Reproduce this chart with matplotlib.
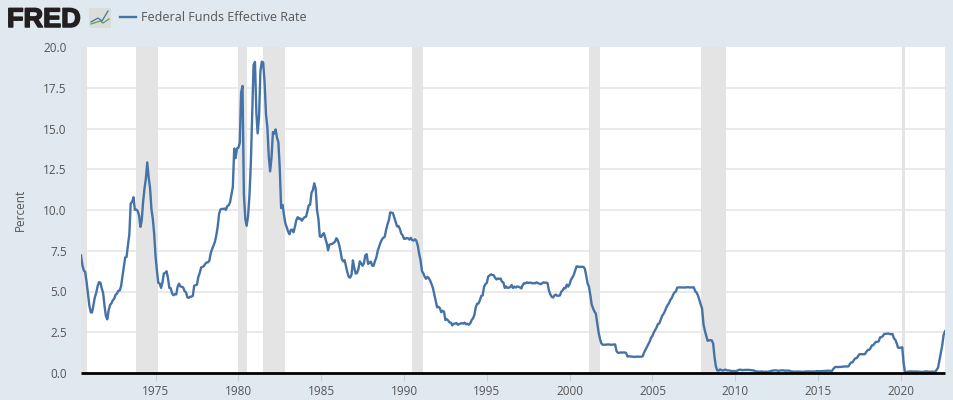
import matplotlib
matplotlib.use("Agg")
import matplotlib.pyplot as plt
import matplotlib.dates as mdates
import matplotlib.patheffects as pe
from matplotlib.lines import Line2D
from matplotlib.patches import Rectangle
import pandas as pd

plt.rcParams['font.family'] = ['Open Sans', 'DejaVu Sans']

# monthly values, first one is July 1970
rate_1970s = [7.21, 6.61, 6.29, 6.20, 5.60, 4.90,
              4.14, 3.72, 3.71, 4.15, 4.63, 4.91, 5.31, 5.57, 5.55, 5.20, 4.91, 4.14,
              3.50, 3.29, 3.83, 4.17, 4.27, 4.46, 4.55, 4.80, 4.87, 5.04, 5.06, 5.33,
              5.94, 6.58, 7.09, 7.12, 7.84, 8.49, 10.40, 10.50, 10.78, 10.01, 10.03, 9.95,
              9.65, 8.97, 9.35, 10.51, 11.31, 11.93, 12.92, 12.01, 11.34, 10.06, 9.45, 8.53,
              7.13, 6.24, 5.54, 5.49, 5.22, 5.55, 6.10, 6.14, 6.24, 5.82, 5.22, 5.20,
              4.87, 4.77, 4.84, 4.82, 5.29, 5.48, 5.31, 5.29, 5.25, 5.02, 4.95, 4.65,
              4.61, 4.68, 4.69, 4.73, 5.35, 5.39, 5.42, 5.90, 6.14, 6.47, 6.51, 6.56,
              6.70, 6.78, 6.79, 6.89, 7.36, 7.60, 7.81, 8.04, 8.45, 8.96, 9.76, 10.03,
              10.07, 10.06, 10.09, 10.01, 10.24, 10.29, 10.47, 10.94, 11.43, 13.77, 13.18, 13.78]
rate_1980s = [13.82, 14.13, 17.19, 17.61, 10.98, 9.47, 9.03, 9.61, 10.87, 12.81, 15.85, 18.90,
              19.08, 15.93, 14.70, 15.72, 18.52, 19.10, 19.04, 17.82, 15.87, 15.08, 13.31, 12.37,
              13.22, 14.78, 14.68, 14.94, 14.45, 14.15, 12.59, 10.12, 10.31, 9.71, 9.20, 8.95,
              8.68, 8.51, 8.77, 8.80, 8.63, 8.98, 9.37, 9.56, 9.45, 9.48, 9.34, 9.47,
              9.56, 9.59, 9.91, 10.29, 10.32, 11.06, 11.23, 11.64, 11.30, 9.99, 9.43, 8.38,
              8.35, 8.50, 8.58, 8.27, 7.97, 7.53, 7.88, 7.90, 7.92, 7.99, 8.05, 8.27,
              8.14, 7.86, 7.48, 6.99, 6.85, 6.92, 6.56, 6.17, 5.89, 5.85, 6.04, 6.91,
              6.43, 6.10, 6.13, 6.37, 6.85, 6.73, 6.58, 6.73, 7.22, 7.29, 6.69, 6.77,
              6.83, 6.58, 6.58, 6.87, 7.09, 7.51, 7.75, 8.01, 8.19, 8.30, 8.35, 8.76,
              9.12, 9.36, 9.85, 9.84, 9.81, 9.53, 9.24, 8.99, 9.02, 8.84, 8.55, 8.45]
rate_1990s = [8.23, 8.24, 8.28, 8.26, 8.18, 8.29, 8.15, 8.13, 8.20, 8.11, 7.81, 7.31,
              6.91, 6.25, 6.12, 5.91, 5.78, 5.90, 5.82, 5.66, 5.45, 5.21, 4.81, 4.43,
              4.03, 4.06, 3.98, 3.73, 3.82, 3.76, 3.25, 3.30, 3.22, 3.10, 3.09, 2.92,
              3.02, 3.03, 3.07, 2.96, 3.00, 3.04, 3.06, 3.03, 3.09, 2.99, 3.02, 2.96,
              3.05, 3.25, 3.34, 3.56, 4.01, 4.25, 4.26, 4.47, 4.73, 4.76, 5.29, 5.45,
              5.53, 5.92, 5.98, 6.05, 6.01, 6.00, 5.85, 5.74, 5.80, 5.76, 5.80, 5.60,
              5.56, 5.22, 5.31, 5.22, 5.24, 5.27, 5.40, 5.22, 5.30, 5.24, 5.31, 5.29,
              5.25, 5.19, 5.39, 5.51, 5.50, 5.56, 5.52, 5.54, 5.54, 5.50, 5.52, 5.50,
              5.56, 5.51, 5.49, 5.45, 5.49, 5.56, 5.54, 5.55, 5.51, 5.07, 4.83, 4.68,
              4.63, 4.76, 4.81, 4.74, 4.74, 4.76, 4.99, 5.07, 5.22, 5.20, 5.42, 5.30]
rate_2000s = [5.45, 5.73, 5.85, 6.02, 6.27, 6.53, 6.54, 6.50, 6.52, 6.51, 6.51, 6.40,
              5.98, 5.49, 5.31, 4.80, 4.21, 3.97, 3.77, 3.65, 3.07, 2.49, 2.09, 1.82,
              1.73, 1.74, 1.73, 1.75, 1.75, 1.75, 1.73, 1.74, 1.75, 1.75, 1.34, 1.24,
              1.24, 1.26, 1.25, 1.26, 1.26, 1.22, 1.01, 1.03, 1.01, 1.01, 1.00, 0.98,
              1.00, 1.01, 1.00, 1.00, 1.00, 1.03, 1.26, 1.43, 1.61, 1.76, 1.93, 2.16,
              2.28, 2.50, 2.63, 2.79, 3.00, 3.04, 3.26, 3.50, 3.62, 3.78, 4.00, 4.16,
              4.29, 4.49, 4.59, 4.79, 4.94, 4.99, 5.24, 5.25, 5.25, 5.25, 5.25, 5.24,
              5.25, 5.26, 5.26, 5.25, 5.25, 5.25, 5.26, 5.02, 4.94, 4.76, 4.49, 4.24,
              3.94, 2.98, 2.61, 2.28, 1.98, 2.00, 2.01, 2.00, 1.81, 0.97, 0.39, 0.16,
              0.15, 0.22, 0.18, 0.15, 0.18, 0.21, 0.16, 0.16, 0.15, 0.12, 0.12, 0.12]
rate_2010s = [0.11, 0.13, 0.16, 0.20, 0.20, 0.18, 0.18, 0.19, 0.19, 0.19, 0.19, 0.18,
              0.17, 0.16, 0.14, 0.10, 0.09, 0.09, 0.07, 0.10, 0.08, 0.07, 0.08, 0.07,
              0.08, 0.10, 0.13, 0.14, 0.16, 0.16, 0.16, 0.13, 0.14, 0.16, 0.16, 0.16,
              0.14, 0.15, 0.14, 0.15, 0.11, 0.09, 0.09, 0.08, 0.08, 0.09, 0.08, 0.09,
              0.07, 0.07, 0.08, 0.09, 0.09, 0.10, 0.09, 0.09, 0.09, 0.09, 0.09, 0.12,
              0.11, 0.11, 0.11, 0.12, 0.12, 0.13, 0.13, 0.14, 0.14, 0.12, 0.12, 0.24,
              0.34, 0.38, 0.36, 0.37, 0.37, 0.38, 0.39, 0.40, 0.40, 0.40, 0.41, 0.54,
              0.65, 0.66, 0.79, 0.90, 0.91, 1.04, 1.15, 1.16, 1.15, 1.15, 1.16, 1.30,
              1.41, 1.42, 1.51, 1.69, 1.70, 1.82, 1.91, 1.91, 1.95, 2.19, 2.20, 2.27,
              2.40, 2.40, 2.41, 2.42, 2.39, 2.38, 2.40, 2.13, 2.04, 1.83, 1.55, 1.55]
rate_2020s = [1.55, 1.58, 0.65, 0.05, 0.05, 0.08, 0.09, 0.10, 0.09, 0.09, 0.09, 0.09,
              0.09, 0.08, 0.07, 0.07, 0.06, 0.08, 0.10, 0.09, 0.08, 0.08, 0.08, 0.08,
              0.08, 0.08, 0.20, 0.33, 0.77, 1.21, 1.68, 2.33, 2.56]

rec_start = ['1969-12-01', '1973-11-01', '1980-01-01', '1981-07-01', '1990-07-01', '2001-03-01', '2007-12-01', '2020-02-01']
rec_end = ['1970-11-01', '1975-03-01', '1980-07-01', '1982-11-01', '1991-03-01', '2001-11-01', '2009-06-01', '2020-04-01']
y_ticks = [0.0, 2.5, 5.0, 7.5, 10.0, 12.5, 15.0, 17.5, 20.0]
x_years = [1975, 1980, 1985, 1990, 1995, 2000, 2005, 2010, 2015, 2020]

rate = rate_1970s + rate_1980s + rate_1990s + rate_2000s + rate_2010s + rate_2020s
dates = pd.date_range('1970-07-01', periods=len(rate), freq='MS')

BG = '#e1e9f0'
TXT = '#555555'
W, H = 954, 400

fig = plt.figure(figsize=(W / 100, H / 100), dpi=100, facecolor=BG)
ax = fig.add_axes([81 / W, 1 - 373 / H, 864 / W, 326 / H], facecolor='white')

for s, e in zip(rec_start, rec_end):
    ax.axvspan(pd.Timestamp(s), pd.Timestamp(e), color='#e4e4e4', lw=0, zorder=1)
for v in y_ticks[1:-1]:
    ax.axhline(v, color='#e6e6e6', lw=1.2, zorder=0.5)
ax.plot(dates, rate, color='#4572a7', lw=1.7, solid_joinstyle='round', zorder=3)

ax.set_xlim(pd.Timestamp('1970-07-01'), pd.Timestamp('2022-09-01'))
ax.set_ylim(0, 20)
ax.set_yticks(y_ticks)
ax.set_yticklabels(['%.1f' % v for v in y_ticks])
ax.set_xticks([pd.Timestamp(str(y) + '-01-01') for y in x_years])
ax.xaxis.set_major_formatter(mdates.DateFormatter('%Y'))
ax.tick_params(axis='y', length=0, pad=10.2, labelsize=8.5, labelcolor=TXT)
ax.tick_params(axis='x', length=6, width=0.8, color='#c0d0e0', pad=2.5, labelsize=8.5, labelcolor=TXT)
for side in ['top', 'left', 'right']:
    ax.spines[side].set_visible(False)
ax.spines['bottom'].set_color('black')
ax.spines['bottom'].set_linewidth(2)
ax.spines['bottom'].set_capstyle('butt')
ax.spines['bottom'].set_zorder(5)

fig.text(20 / W, 1 - 210 / H, 'Percent', rotation=90, ha='center', va='center', fontsize=8.5, color=TXT)

# header: logo and legend
fig.text(7 / W, 1 - 27 / H, 'FRED', ha='left', va='baseline', fontsize=19.5, color='#231f20',
         fontweight='bold', family='Liberation Sans',
         path_effects=[pe.withStroke(linewidth=1.1, foreground='#231f20')])
fig.add_artist(Rectangle((89 / W, 1 - 28 / H), 22 / W, 20 / H, transform=fig.transFigure, color='#d9dedb', lw=0))
fig.add_artist(Line2D([91 / W, 100 / W, 103 / W, 109 / W],
                      [1 - 24 / H, 1 - 21 / H, 1 - 23 / H, 1 - 19 / H], color='#6a9a4a', lw=0.9))
fig.add_artist(Line2D([91 / W, 98 / W, 102 / W, 108 / W],
                      [1 - 22 / H, 1 - 18 / H, 1 - 21 / H, 1 - 11 / H], color='#4572a7', lw=0.9))
fig.add_artist(Line2D([120 / W, 136 / W], [1 - 17 / H, 1 - 17 / H], color='#4572a7', lw=1.7))
fig.text(141 / W, 1 - 17.5 / H, 'Federal Funds Effective Rate', ha='left', va='center', fontsize=9, color=TXT)

fig.savefig('out.png', dpi=100, facecolor=BG)
